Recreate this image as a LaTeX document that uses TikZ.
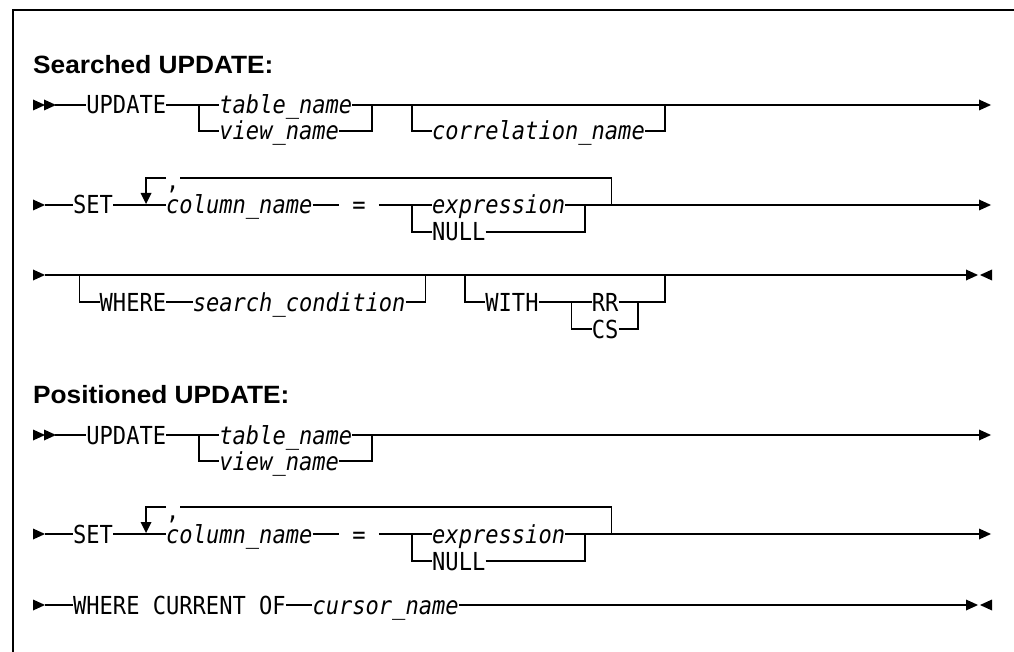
\documentclass[tikz,border=0pt]{standalone}
\usepackage{fontspec}
\newfontfamily\monofam[FakeStretch=0.89, ItalicFont={DejaVu Sans Mono Oblique}]{DejaVu Sans Mono}
\newfontfamily\titlefam{Liberation Sans}
\tikzset{
  kw/.style={inner sep=0pt, text height=18pt, text depth=0pt, anchor=west,
    font=\monofam\fontsize{24.8}{28}\selectfont},
  var/.style={kw, font=\monofam\itshape\fontsize{24.8}{28}\selectfont},
  sep/.style={kw, text height=1pt, text depth=0pt},
  rail/.style={line width=1.6pt, line cap=butt, line join=miter},
  ttl/.style={inner sep=0pt, anchor=base west,
    font=\titlefam\bfseries\fontsize{25}{30}\selectfont},
  rtri/.pic={\fill (0,-5.5) -- (12,0) -- (0,5.5) -- cycle;},
  ltri/.pic={\fill (0,-5.5) -- (-12,0) -- (0,5.5) -- cycle;},
  dtri/.pic={\fill (-5.5,-11) -- (0,0) -- (5.5,-11) -- cycle;},
}
\begin{document}
\begin{tikzpicture}[x=1pt,y=-1pt]
\useasboundingbox (0,0) rectangle (1014,652);
% frame
\draw[line width=2pt] (13,652) -- (13,10) -- (1014,10);

% ================= Searched UPDATE =================
\node[ttl] (t1) at (33,74) {\scalebox{1.05}[1]{Searched UPDATE:}};

% row 1
\pic at (33,105) {rtri}; \pic at (44,105) {rtri};
\coordinate (r1s) at (55,105);
\node[kw]  (r1upd)  at (86.2,105) {UPDATE};
\coordinate (r1b) at (199.25,105);
\node[var] (r1tab)  at (219.2,105) {table\_name};
\node[var] (r1view) at (219.2,131) {view\_name};
\coordinate (r1j) at (372.15,105);
\coordinate (r1c1) at (412.05,105);
\node[var] (r1cor)  at (432,131) {correlation\_name};
\coordinate (r1c2) at (664.75,105);
\coordinate (r1e) at (979,105);
\pic at (r1e) {rtri};
\draw[rail] (r1s) -- (r1upd.west);
\draw[rail] (r1upd.east) -- (r1tab.west);
\draw[rail] (r1b) |- (r1view.west);
\draw[rail] (r1tab.east) -- (r1e);
\draw[rail] (r1view.east) -| (r1j);
\draw[rail] (r1c1) |- (r1cor.west);
\draw[rail] (r1cor.east) -| (r1c2);

% row 2
\pic at (33,205) {rtri};
\coordinate (r2s) at (45,205);
\node[kw]  (r2set)  at (72.9,205) {SET};
\node[var] (r2col)  at (166,205) {column\_name};
\coordinate (r2e1) at (338.9,205);
\node[kw]  (r2eq)   at (352.2,205) {=};
\coordinate (r2e2) at (378.8,205);
\coordinate (r2b) at (412.05,205);
\node[var] (r2exp)  at (432,205) {expression};
\node[kw]  (r2null) at (432,232) {NULL};
\coordinate (r2j) at (584.95,205);
\coordinate (r2lr) at (611.55,205);
\coordinate (r2tr) at (611.55,178);
\coordinate (r2ll) at (146.05,178);
\node[sep] (r2comma) at (166,189.5) {,};
\coordinate (r2e) at (979,205);
\pic at (r2e) {rtri};
\draw[rail] (r2s) -- (r2set.west);
\draw[rail] (r2set.east) -- (r2col.west);
\draw[rail] (r2col.east) -- (r2e1);
\draw[rail] (r2e2) -- (r2exp.west);
\draw[rail] (r2b) |- (r2null.west);
\draw[rail] (r2null.east) -| (r2j);
\draw[rail] (r2exp.east) -- (r2e);
\draw[rail] (r2lr) -- (r2tr) -- (r2comma.east |- r2tr);
\draw[rail] (r2comma.west |- r2ll) -- (r2ll) -- ++(0,16);
\pic at (146.05,204) {dtri};

% row 3
\pic at (33,275) {rtri};
\coordinate (r3s) at (45,275);
\coordinate (r3e) at (966,275);
\pic at (r3e) {rtri};
\pic at (992,275) {ltri};
\draw[rail] (r3s) -- (r3e);
\coordinate (r3w1) at (79.55,275);
\node[kw]  (r3where) at (99.5,302) {WHERE};
\node[var] (r3sc)    at (192.6,302) {search\_condition};
\coordinate (r3w2) at (425.35,275);
\coordinate (r3h1) at (465.25,275);
\node[kw]  (r3with)  at (485.2,302) {WITH};
\coordinate (r3hb) at (571.65,302);
\node[kw]  (r3rr)    at (591.6,302) {RR};
\node[kw]  (r3cs)    at (591.6,329) {CS};
\coordinate (r3hj) at (638.15,302);
\coordinate (r3h2) at (664.75,275);
\draw[rail] (r3w1) |- (r3where.west);
\draw[rail] (r3where.east) -- (r3sc.west);
\draw[rail] (r3sc.east) -| (r3w2);
\draw[rail] (r3h1) |- (r3with.west);
\draw[rail] (r3with.east) -- (r3rr.west);
\draw[rail] (r3hb) |- (r3cs.west);
\draw[rail] (r3cs.east) -| (r3hj);
\draw[rail] (r3rr.east) -| (r3h2);

% ================= Positioned UPDATE =================
\node[ttl] (t2) at (33,403) {\scalebox{1.05}[1]{Positioned UPDATE:}};

% row 4
\pic at (33,435) {rtri}; \pic at (44,435) {rtri};
\coordinate (r4s) at (55,435);
\node[kw]  (r4upd)  at (86.2,435) {UPDATE};
\coordinate (r4b) at (199.25,435);
\node[var] (r4tab)  at (219.2,435) {table\_name};
\node[var] (r4view) at (219.2,461) {view\_name};
\coordinate (r4j) at (372.15,435);
\coordinate (r4e) at (979,435);
\pic at (r4e) {rtri};
\draw[rail] (r4s) -- (r4upd.west);
\draw[rail] (r4upd.east) -- (r4tab.west);
\draw[rail] (r4b) |- (r4view.west);
\draw[rail] (r4tab.east) -- (r4e);
\draw[rail] (r4view.east) -| (r4j);

% row 5
\pic at (33,534) {rtri};
\coordinate (r5s) at (45,534);
\node[kw]  (r5set)  at (72.9,534) {SET};
\node[var] (r5col)  at (166,534) {column\_name};
\coordinate (r5e1) at (338.9,534);
\node[kw]  (r5eq)   at (352.2,534) {=};
\coordinate (r5e2) at (378.8,534);
\coordinate (r5b) at (412.05,534);
\node[var] (r5exp)  at (432,534) {expression};
\node[kw]  (r5null) at (432,561) {NULL};
\coordinate (r5j) at (584.95,534);
\coordinate (r5lr) at (611.55,534);
\coordinate (r5tr) at (611.55,507);
\coordinate (r5ll) at (146.05,507);
\node[sep] (r5comma) at (166,518.5) {,};
\coordinate (r5e) at (979,534);
\pic at (r5e) {rtri};
\draw[rail] (r5s) -- (r5set.west);
\draw[rail] (r5set.east) -- (r5col.west);
\draw[rail] (r5col.east) -- (r5e1);
\draw[rail] (r5e2) -- (r5exp.west);
\draw[rail] (r5b) |- (r5null.west);
\draw[rail] (r5null.east) -| (r5j);
\draw[rail] (r5exp.east) -- (r5e);
\draw[rail] (r5lr) -- (r5tr) -- (r5comma.east |- r5tr);
\draw[rail] (r5comma.west |- r5ll) -- (r5ll) -- ++(0,16);
\pic at (146.05,533) {dtri};

% row 6
\pic at (33,605) {rtri};
\coordinate (r6s) at (45,605);
\node[kw]  (r6where) at (72.9,605) {WHERE CURRENT OF};
\node[var] (r6cur)   at (312.3,605) {cursor\_name};
\coordinate (r6e) at (966,605);
\pic at (r6e) {rtri};
\pic at (992,605) {ltri};
\draw[rail] (r6s) -- (r6where.west);
\draw[rail] (r6where.east) -- (r6cur.west);
\draw[rail] (r6cur.east) -- (r6e);
\end{tikzpicture}
\end{document}
